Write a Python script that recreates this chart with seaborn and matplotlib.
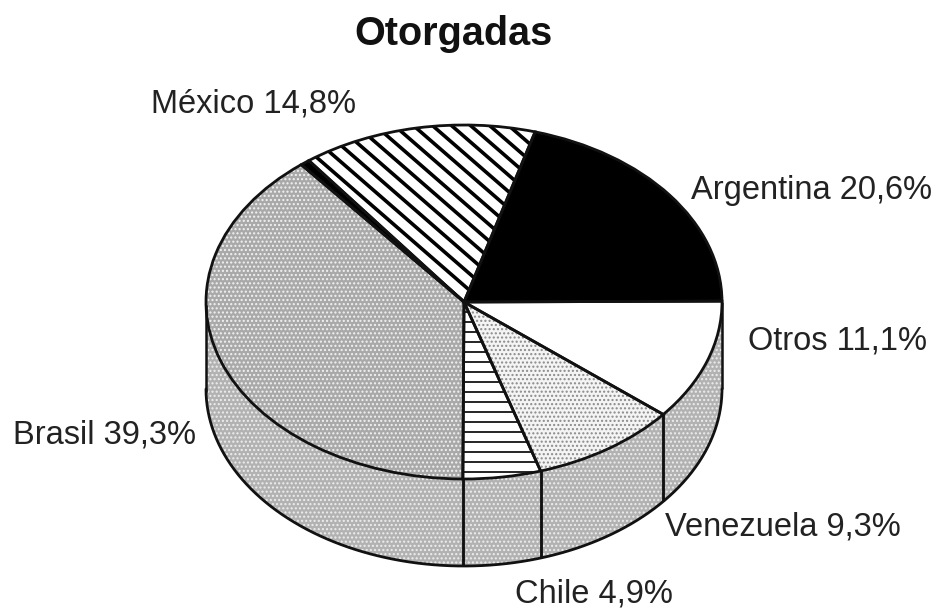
import numpy as np
import matplotlib
matplotlib.use("Agg")
import matplotlib.pyplot as plt
import seaborn as sns

W, H = 939, 610
CX, CY, RX, RY = 464, 302, 258, 177
DEPTH = 87 / RY

title = "Otorgadas"
labels = ["Argentina 20,6%", "Otros 11,1%", "Venezuela 9,3%", "Chile 4,9%", "Brasil 39,3%", "", "México 14,8%"]
values = [20.6, 11.1, 9.3, 4.9, 39.3, 0.6, 14.8]

# label anchors in picture pixels (left edge, middle)
label_x = [691, 748, 665, 515, 13, 0, 151]
label_y = [190, 341, 527, 594, 435, 0, 104]

face_colors = ["black", "white", "#f4f4f4", "white", "#a9a9a9", "black", "white"]
hatch_colors = ["black", "white", "#8a8a8a", "white", "#f2f2f2", "black", "white"]
hatches = [None, None, "....", None, "....", None, None]
WALL_FACE = "#b2b2b2"
WALL_DOTS = "#eeeeee"

sns.set_theme(style="white")
plt.rcParams["font.family"] = ["Liberation Sans", "DejaVu Sans"]
plt.rcParams["hatch.linewidth"] = 1.0

fig = plt.figure(figsize=(W / 100, H / 100), dpi=100, facecolor="white")
ax = fig.add_axes([0, 0, 1, 1])


def pie_layer(**kw):
    wedges, _ = ax.pie(values, startangle=74, counterclock=False, radius=1, center=(0, 0), **kw)
    return wedges


# fills with their dot textures, then the outlines on top
fill_wedges = pie_layer(colors=face_colors, wedgeprops={"linewidth": 0, "zorder": 3})
for wedge, hatch, color, face in zip(fill_wedges, hatches, hatch_colors, face_colors):
    wedge.set_edgecolor(color)
    wedge.set_facecolor(face)
    wedge.set_hatch(hatch)

ax.set_aspect("auto")
ax.set_xlim(-CX / RX, (W - CX) / RX)
ax.set_ylim((CY - H) / RY, CY / RY)
ax.axis("off")


def stripes(wedge, angle, period, lw):
    # clipped parallel lines, hatch spacing is too coarse for this
    t = np.radians(angle)
    nx, ny = -np.sin(t), np.cos(t)
    for off in np.arange(-500, 500, period):
        px = off * nx
        py = off * ny
        xs = np.array([px - 600 * np.cos(t), px + 600 * np.cos(t)]) / RX
        ys = np.array([py - 600 * np.sin(t), py + 600 * np.sin(t)]) / RY
        line, = ax.plot(xs, ys, color="black", lw=lw, zorder=4, solid_capstyle="butt", scalex=False, scaley=False)
        line.set_clip_path(wedge)


stripes(fill_wedges[6], -41, 12.5, 2.6)
stripes(fill_wedges[3], 0, 10, 1.2)

pie_layer(wedgeprops={"linewidth": 2.0, "edgecolor": "#111111", "fill": False, "zorder": 5})
ax.set_xlim(-CX / RX, (W - CX) / RX)
ax.set_ylim((CY - H) / RY, CY / RY)
ax.set_aspect("auto")

# side wall: lower half of the rim, split at the slice boundaries
for wedge in fill_wedges:
    lo, hi = sorted((wedge.theta1, wedge.theta2))
    a = np.linspace(lo, hi, 120) % 360
    a = a[(a >= 180) & (a <= 360)]
    if len(a) < 2:
        continue
    a = np.sort(a)
    x = np.cos(np.radians(a))
    y = np.sin(np.radians(a))
    ax.fill_between(x, y, y - DEPTH, facecolor=WALL_FACE, edgecolor=WALL_DOTS, hatch="....", linewidth=0, zorder=2)
    ax.vlines([x[0], x[-1]], y[[0, -1]] - DEPTH, y[[0, -1]], color="#111111", lw=1.8, zorder=3)

rim = np.radians(np.linspace(180, 360, 200))
ax.plot(np.cos(rim), np.sin(rim) - DEPTH, color="#111111", lw=2.0, zorder=3)

fig.text(453 / W, 1 - 34 / H, title, fontsize=28.5, fontweight="bold", ha="center", va="center", color="#111111")
for text, x, y in zip(labels, label_x, label_y):
    if text:
        fig.text(x / W, 1 - y / H, text, fontsize=23.5, ha="left", va="center", color="#222222")

fig.savefig("out.png", dpi=100)
plt.close(fig)
